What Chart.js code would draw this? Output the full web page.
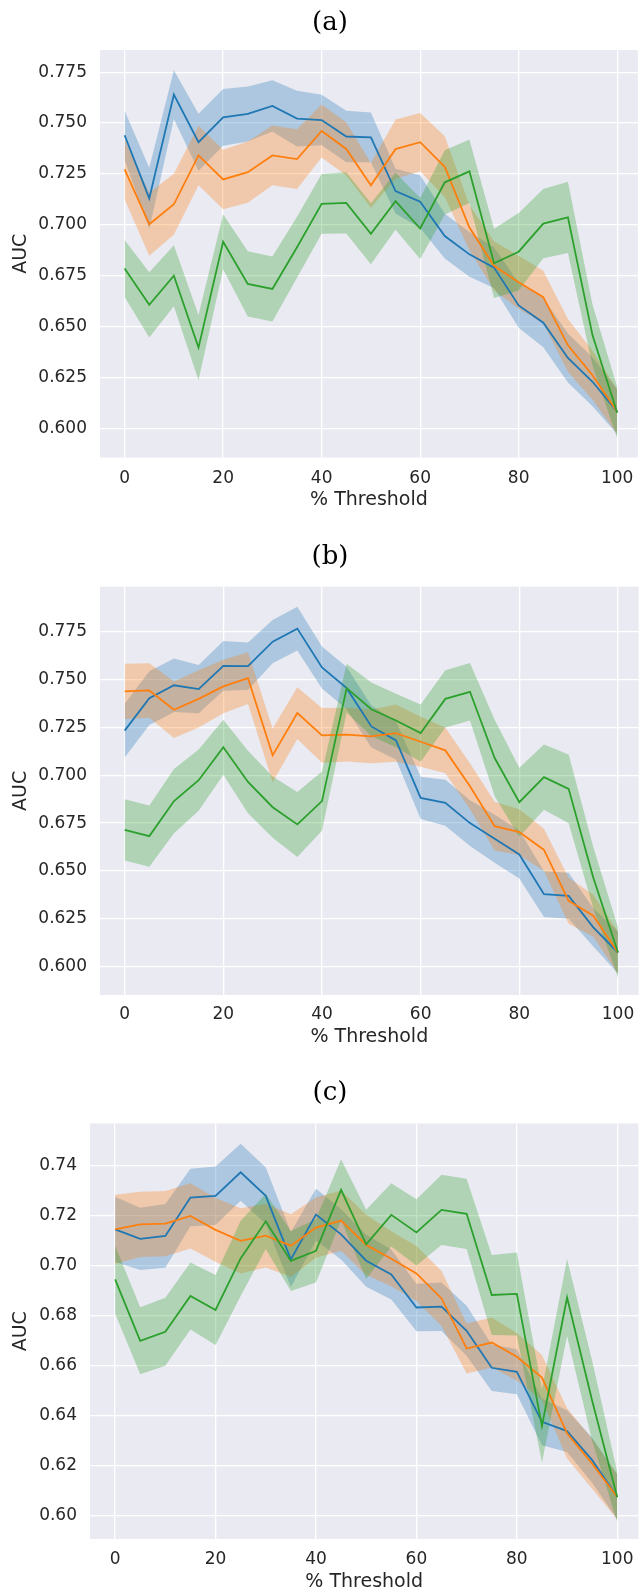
<!DOCTYPE html>
<html>
<head>
<meta charset="utf-8">
<script src="https://cdn.jsdelivr.net/npm/chart.js@4.4.1/dist/chart.umd.min.js"></script>
<style>
  html, body { margin: 0; padding: 0; background: #ffffff; }
  body { width: 644px; height: 1594px; position: relative; overflow: hidden; }
  .panel { position: absolute; left: 0; }
  .panel canvas { display: block; }
</style>
</head>
<body>
<div class="panel" id="wrapA"><canvas id="chartA"></canvas></div>
<div class="panel" id="wrapB"><canvas id="chartB"></canvas></div>
<div class="panel" id="wrapC"><canvas id="chartC"></canvas></div>

<script>
// ---- data -------------------------------------------------------------
const thresholds = [0, 5, 10, 15, 20, 25, 30, 35, 40, 45, 50, 55, 60, 65, 70, 75, 80, 85, 90, 95, 100];
const xTicks = [0, 20, 40, 60, 80, 100];
const yTicksAB = [0.600, 0.625, 0.650, 0.675, 0.700, 0.725, 0.750, 0.775];
const yTicksC = [0.60, 0.62, 0.64, 0.66, 0.68, 0.70, 0.72, 0.74];
const panelTitles = ['(a)', '(b)', '(c)'];

// panel (a): mean AUC and confidence half-width per threshold
const aucA1 = [0.744, 0.713, 0.764, 0.7406, 0.7528, 0.7545, 0.7584, 0.7522, 0.7515, 0.7434, 0.743, 0.7166, 0.7114, 0.6945, 0.6855, 0.679, 0.6604, 0.6519, 0.6346, 0.6229, 0.6082];
const ciA1  = [0.012, 0.015, 0.012, 0.014, 0.014, 0.0135, 0.0126, 0.0137, 0.0124, 0.0126, 0.0122, 0.011, 0.013, 0.011, 0.011, 0.010, 0.011, 0.012, 0.012, 0.012, 0.011];
const aucA2 = [0.7272, 0.7003, 0.7101, 0.7341, 0.7223, 0.7259, 0.7341, 0.7323, 0.7461, 0.7373, 0.7194, 0.7372, 0.7406, 0.7285, 0.6987, 0.6799, 0.6718, 0.6645, 0.6408, 0.6261, 0.6082];
const ciA2  = [0.0147, 0.0155, 0.015, 0.0146, 0.0146, 0.015, 0.0147, 0.0147, 0.013, 0.013, 0.011, 0.0145, 0.0143, 0.015, 0.011, 0.012, 0.013, 0.013, 0.013, 0.012, 0.011];
const aucA3 = [0.6785, 0.6607, 0.675, 0.6397, 0.6917, 0.671, 0.6685, 0.689, 0.7103, 0.7108, 0.6956, 0.7116, 0.6982, 0.7209, 0.7263, 0.6811, 0.6868, 0.7006, 0.7037, 0.6457, 0.6077];
const ciA3  = [0.014, 0.016, 0.015, 0.016, 0.0135, 0.016, 0.016, 0.015, 0.0147, 0.015, 0.015, 0.014, 0.015, 0.0158, 0.0156, 0.017, 0.019, 0.017, 0.0175, 0.015, 0.0126];

// panel (b)
const aucB1 = [0.7233, 0.7403, 0.747, 0.745, 0.7571, 0.757, 0.7698, 0.7766, 0.7563, 0.7455, 0.7255, 0.7182, 0.6882, 0.6856, 0.675, 0.6668, 0.6586, 0.6379, 0.637, 0.6205, 0.6074];
const ciB1  = [0.014, 0.014, 0.014, 0.0126, 0.013, 0.0124, 0.0113, 0.0114, 0.011, 0.011, 0.011, 0.010, 0.011, 0.012, 0.012, 0.0125, 0.0125, 0.012, 0.012, 0.010, 0.011];
const aucB2 = [0.7438, 0.7443, 0.7342, 0.7399, 0.7464, 0.7507, 0.7104, 0.7325, 0.7208, 0.7212, 0.7203, 0.722, 0.7175, 0.713, 0.6943, 0.6734, 0.6703, 0.661, 0.6344, 0.6266, 0.6074];
const ciB2  = [0.0144, 0.0142, 0.0148, 0.015, 0.014, 0.0135, 0.014, 0.0135, 0.0143, 0.014, 0.014, 0.015, 0.013, 0.012, 0.012, 0.0127, 0.012, 0.011, 0.012, 0.011, 0.011];
const aucB3 = [0.6714, 0.6682, 0.6865, 0.6974, 0.7146, 0.6965, 0.6833, 0.6743, 0.6865, 0.7455, 0.7345, 0.7286, 0.722, 0.7399, 0.7436, 0.709, 0.6859, 0.699, 0.6929, 0.6465, 0.6074];
const ciB3  = [0.016, 0.016, 0.0168, 0.016, 0.0144, 0.0163, 0.016, 0.017, 0.0155, 0.0127, 0.014, 0.014, 0.015, 0.015, 0.015, 0.02, 0.018, 0.017, 0.018, 0.016, 0.013];

// panel (c)
const aucC1 = [0.7145, 0.7107, 0.7119, 0.7272, 0.7279, 0.7373, 0.7279, 0.7025, 0.7204, 0.7125, 0.702, 0.6965, 0.6833, 0.6836, 0.674, 0.6592, 0.6576, 0.6376, 0.6339, 0.6223, 0.6076];
const ciC1  = [0.013, 0.0124, 0.0127, 0.0115, 0.0117, 0.0114, 0.0113, 0.011, 0.0103, 0.010, 0.0104, 0.010, 0.0095, 0.0097, 0.010, 0.0093, 0.009, 0.0093, 0.0083, 0.009, 0.009];
const aucC2 = [0.7145, 0.7165, 0.7168, 0.7199, 0.7143, 0.7099, 0.712, 0.708, 0.7152, 0.718, 0.7083, 0.7028, 0.6969, 0.6869, 0.6669, 0.6693, 0.6636, 0.6553, 0.633, 0.6209, 0.6076];
const ciC2  = [0.0138, 0.013, 0.013, 0.013, 0.0127, 0.013, 0.0127, 0.0125, 0.012, 0.012, 0.012, 0.011, 0.011, 0.011, 0.01, 0.01, 0.0095, 0.009, 0.01, 0.01, 0.009];
const aucC3 = [0.6945, 0.67, 0.6736, 0.6879, 0.6823, 0.7029, 0.7177, 0.7019, 0.7059, 0.7303, 0.7085, 0.7203, 0.7133, 0.7223, 0.7207, 0.6883, 0.6887, 0.6359, 0.6873, 0.646, 0.6075];
const ciC3  = [0.0136, 0.0134, 0.0136, 0.0134, 0.014, 0.015, 0.011, 0.012, 0.0126, 0.0122, 0.0138, 0.0126, 0.0132, 0.014, 0.014, 0.016, 0.0166, 0.0146, 0.0154, 0.016, 0.01];

// ---- styling ----------------------------------------------------------
const LINE_COLORS = ['#1f77b4', '#ff7f0e', '#2ca02c'];
const BAND_COLORS = ['rgba(31,119,180,0.3)', 'rgba(255,127,14,0.3)', 'rgba(44,160,44,0.3)'];
const AXES_BG = '#eaeaf2';
const TEXT_COLOR = '#262626';
const SANS = 'DejaVu Sans';

// pixel layout of each panel on the page
const layouts = [
  { top: 0,    height: 522, plotTop: 50,    plotBottom: 457.5, plotLeft: 100, titleY: 23.7,   tickY: 478.3,  xlabelY: 500.5,  ymin: 0.5857, ymax: 0.7859, dec: 3 },
  { top: 530,  height: 530, plotTop: 586.7, plotBottom: 995,   plotLeft: 100, titleY: 557,    tickY: 1015,   xlabelY: 1037.5, ymin: 0.5852, ymax: 0.7985, dec: 3 },
  { top: 1060, height: 534, plotTop: 1123.5,plotBottom: 1539,  plotLeft: 90,  titleY: 1093.7, tickY: 1559.7, xlabelY: 1582,   ymin: 0.5908, ymax: 0.7568, dec: 2 }
];

function toPoints(ys) {
  return thresholds.map((x, i) => ({ x: x, y: ys[i] }));
}

// Every confidence band sits below every line; within each layer the
// later series is drawn on top (higher `order` is drawn first).
function buildDatasets(series) {
  const out = [];
  const n = series.length;
  series.forEach(([mean, ci], k) => {
    const lower = mean.map((v, i) => v - ci[i]);
    const upper = mean.map((v, i) => v + ci[i]);
    const base = out.length;
    const bandOrder = 2 * n - k;   // bands: 6, 5, 4
    const lineOrder = n - k;       // lines: 3, 2, 1
    out.push({ data: toPoints(lower), borderWidth: 0, pointRadius: 0, fill: false, order: bandOrder });
    out.push({ data: toPoints(upper), borderWidth: 0, pointRadius: 0, fill: { target: base },
               backgroundColor: BAND_COLORS[k], order: bandOrder });
    out.push({ data: toPoints(mean), borderColor: LINE_COLORS[k], borderWidth: 1.8, pointRadius: 0,
               fill: false, tension: 0, order: lineOrder });
  });
  return out;
}

const axesBackground = {
  id: 'axesBackground',
  beforeDraw(chart) {
    const { ctx, chartArea: a } = chart;
    ctx.save();
    ctx.fillStyle = AXES_BG;
    ctx.fillRect(a.left, a.top, a.right - a.left, a.bottom - a.top);
    ctx.restore();
  }
};

const panelTitle = {
  id: 'panelTitle',
  afterDraw(chart, args, opts) {
    const ctx = chart.ctx;
    ctx.save();
    ctx.font = '26px "DejaVu Serif"';
    ctx.fillStyle = '#000000';
    ctx.textAlign = 'center';
    ctx.textBaseline = 'middle';
    ctx.fillText(opts.text, 330, opts.y);
    ctx.restore();
  }
};

function makePanel(canvasId, wrapId, L, title, yTicks, series) {
  const wrap = document.getElementById(wrapId);
  wrap.style.top = L.top + 'px';
  const canvas = document.getElementById(canvasId);
  canvas.width = 644;
  canvas.height = L.height;
  canvas.style.width = '644px';
  canvas.style.height = L.height + 'px';

  const xAxisHeight = L.top + L.height - L.plotBottom;
  const tickFont = { family: SANS, size: 17 };
  const labelFont = { family: SANS, size: 19 };

  new Chart(canvas, {
    type: 'line',
    data: { datasets: buildDatasets(series) },
    plugins: [axesBackground, panelTitle],
    options: {
      responsive: false,
      animation: false,
      devicePixelRatio: 1,
      layout: { padding: { top: L.plotTop - L.top, left: 0, right: 0, bottom: 0 } },
      plugins: {
        legend: { display: false },
        tooltip: { enabled: false },
        title: { display: false },
        filler: { drawTime: 'beforeDatasetDraw' },
        panelTitle: { text: title, y: L.titleY - L.top }
      },
      scales: {
        x: {
          type: 'linear',
          min: -5,
          max: 104.2,
          afterBuildTicks(scale) { scale.ticks = xTicks.map(v => ({ value: v })); },
          afterFit(scale) { scale.height = xAxisHeight; },
          grid: { color: '#ffffff', lineWidth: 1.3, drawTicks: false },
          border: { display: false },
          ticks: {
            font: tickFont, color: TEXT_COLOR, maxRotation: 0,
            padding: (L.tickY - L.plotBottom) - tickFont.size * 0.6,
            callback: v => String(v)
          },
          title: {
            display: true, text: '% Threshold', font: labelFont, color: TEXT_COLOR,
            padding: { top: 0, bottom: (L.top + L.height) - L.xlabelY - labelFont.size * 0.6 }
          }
        },
        y: {
          type: 'linear',
          min: L.ymin,
          max: L.ymax,
          afterBuildTicks(scale) { scale.ticks = yTicks.map(v => ({ value: v })); },
          afterFit(scale) { scale.width = L.plotLeft; },
          grid: { color: '#ffffff', lineWidth: 1.3, drawTicks: false },
          border: { display: false },
          ticks: {
            font: tickFont, color: TEXT_COLOR, padding: 13,
            callback: v => Number(v).toFixed(L.dec)
          },
          title: {
            display: true, text: 'AUC', font: labelFont, color: TEXT_COLOR,
            padding: { top: 21 - labelFont.size * 0.6, bottom: 0 }
          }
        }
      }
    }
  });
}

makePanel('chartA', 'wrapA', layouts[0], panelTitles[0], yTicksAB,
  [[aucA1, ciA1], [aucA2, ciA2], [aucA3, ciA3]]);
makePanel('chartB', 'wrapB', layouts[1], panelTitles[1], yTicksAB,
  [[aucB1, ciB1], [aucB2, ciB2], [aucB3, ciB3]]);
makePanel('chartC', 'wrapC', layouts[2], panelTitles[2], yTicksC,
  [[aucC1, ciC1], [aucC2, ciC2], [aucC3, ciC3]]);
</script>
</body>
</html>
